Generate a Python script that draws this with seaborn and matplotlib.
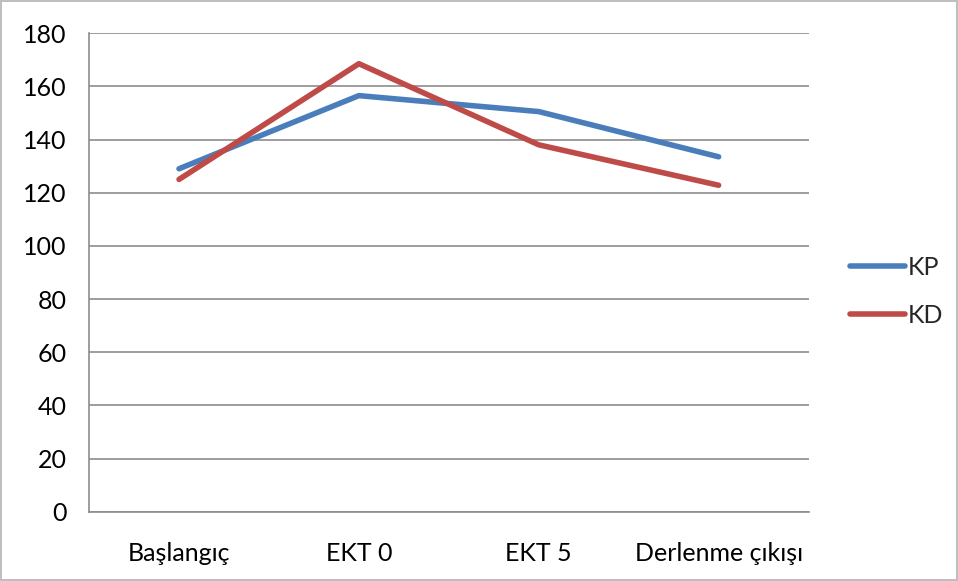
import pandas as pd
import numpy as np
import matplotlib
matplotlib.use("Agg")
import matplotlib.pyplot as plt
import seaborn as sns
from matplotlib.lines import Line2D

# data
categories = ["Başlangıç", "EKT 0", "EKT 5", "Derlenme çıkışı"]
kp = [129, 156.5, 150.5, 133.5]
kd = [125, 168.5, 138, 122.8]

df = pd.DataFrame({
    "stage": categories * 2,
    "value": kp + kd,
    "group": ["KP"] * 4 + ["KD"] * 4,
})
df["pos"] = list(range(4)) * 2

sns.set_style("white")
plt.rcParams["font.family"] = ["Lato", "DejaVu Sans"]

fig = plt.figure(figsize=(9.58, 5.81), dpi=100)
fig.patch.set_edgecolor("#bfbfbf")
fig.patch.set_linewidth(1.5)
ax = fig.add_axes([0.093, 0.119, 0.751, 0.824])

sns.lineplot(data=df, x="pos", y="value", hue="group",
             palette={"KP": "#4A7EBB", "KD": "#BE4B48"},
             linewidth=4.0, sort=False, ax=ax, legend=False,
             solid_capstyle="round")

ax.set_xlim(-0.5, 3.5)
ax.set_ylim(0, 180)
ax.set_yticks(np.arange(0, 181, 20))
ax.set_xticks(range(4))
ax.set_xticklabels(categories)
ax.set_xticks(np.arange(-0.5, 3.6, 1), minor=True)
ax.tick_params(axis="x", which="major", length=0, pad=22, labelsize=18, colors="#000000")
ax.tick_params(axis="x", which="minor", length=7, width=1.2, color="#8c8c8c", direction="out")
ax.tick_params(axis="y", length=7, width=1.2, color="#8c8c8c", labelcolor="#000000",
               direction="out", pad=9, labelsize=18)
ax.set_xlabel("")
ax.set_ylabel("")
ax.grid(axis="y", color="#8c8c8c", linewidth=1.2)
ax.set_axisbelow(True)
for s in ["top", "right"]:
    ax.spines[s].set_visible(False)
for s in ["left", "bottom"]:
    ax.spines[s].set_color("#8c8c8c")
    ax.spines[s].set_linewidth(1.2)

handles = [Line2D([], [], color="#4A7EBB", lw=4.0, solid_capstyle="round"),
           Line2D([], [], color="#BE4B48", lw=4.0, solid_capstyle="round")]
fig.legend(handles, ["KP", "KD"], loc="center left", bbox_to_anchor=(0.864, 0.498),
           frameon=False, fontsize=18, handlelength=2.2, handletextpad=0.1,
           labelspacing=1.0)

fig.savefig("out.png", dpi=100, edgecolor=fig.get_edgecolor())
